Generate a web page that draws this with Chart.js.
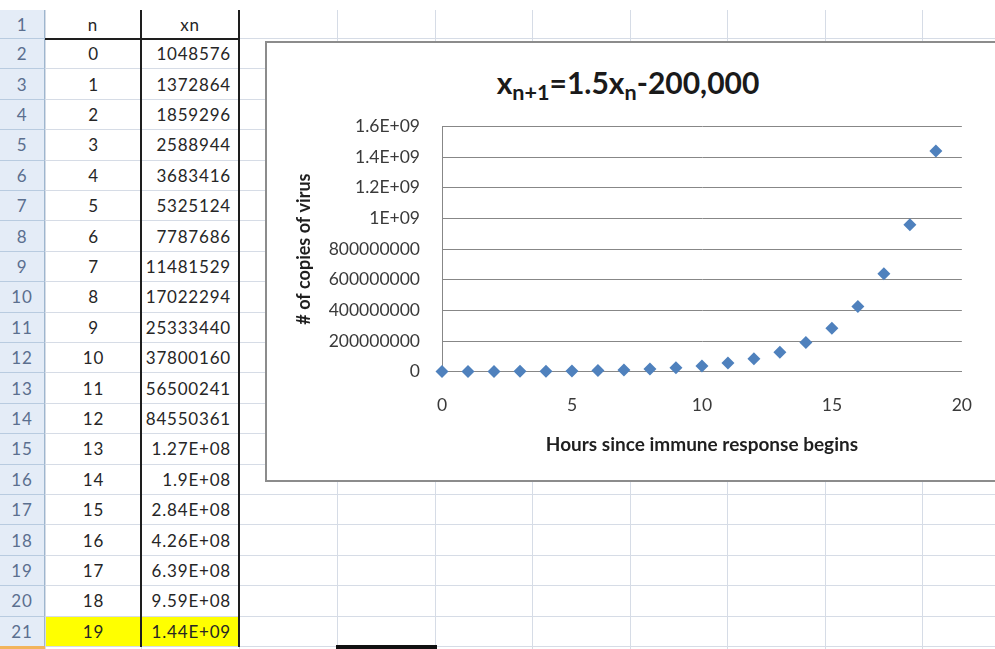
<!DOCTYPE html>
<html lang="en">
<head>
    <meta charset="UTF-8">
    <title>x(n+1) = 1.5 x(n) - 200,000</title>
    <script src="https://cdn.jsdelivr.net/npm/chart.js"></script>
    <style>
        html, body { margin: 0; padding: 0; }
        body { width: 995px; height: 649px; overflow: hidden; position: relative; background: #fff; font-family: Lato, sans-serif; }
        .ln { position: absolute; }
        .cell { position: absolute; box-sizing: border-box; font-size: 17px; letter-spacing: 0.8px; color: #262626; display: flex; align-items: center; }
        .rowhead { position: absolute; box-sizing: border-box; left: 0; width: 45px; background: #e4ecf7;
                   border-right: 1px solid #9eb6ce; border-bottom: 1px solid #b8cbe0; color: #5b6f8f;
                   font-size: 17px; letter-spacing: 0.8px; display: flex; align-items: center; justify-content: center; }
        .chart-box { position: absolute; left: 265px; top: 41px; width: 760px; height: 437px;
                     border: 2px solid #8c8c8c; background: #fff; }
        .chart-title { position: absolute; left: 267px; top: 62px; width: 722px; text-align: center;
                       font-weight: bold; font-size: 30px; color: #1a1a1a; line-height: 40px; }
        .chart-title sub { font-size: 72%; vertical-align: -0.3em; line-height: 0; }
        .chart-wrap { position: absolute; left: 267px; top: 43px; width: 728px; height: 435px; }
    </style>
</head>
<body>
    <div id="sheet"></div>
    <div class="chart-box"></div>
    <div class="chart-title">x<sub>n+1</sub>=1.5x<sub>n</sub>-200,000</div>
    <div class="chart-wrap"><canvas id="virusChart"></canvas></div>

    <script>
        // data read from the sheet
        const nValues = [0, 1, 2, 3, 4, 5, 6, 7, 8, 9, 10, 11, 12, 13, 14, 15, 16, 17, 18, 19];
        const xnValues = [1048576, 1372864, 1859296, 2588944, 3683416, 5325124, 7787686, 11481529,
                          17022294, 25333440, 37800160, 56500241, 84550361, 1.27e8, 1.9e8, 2.84e8,
                          4.26e8, 6.39e8, 9.59e8, 1.44e9];
        const columnHeaders = ['n', 'xn'];
        const xAxisTitle = 'Hours since immune response begins';
        const yAxisTitle = '# of copies of virus';

        // Excel "General" look: long numbers become 1.27E+08
        function generalFormat(v, maxDigits) {
            if (String(Math.round(Math.abs(v))).length <= maxDigits) return String(Math.round(v));
            let [m, e] = v.toExponential(2).split('e');
            m = m.replace(/\.?0+$/, '');
            const exp = parseInt(e, 10);
            return m + 'E' + (exp < 0 ? '-' : '+') + String(Math.abs(exp)).padStart(2, '0');
        }

        // spreadsheet grid
        const sheet = document.getElementById('sheet');
        const colEdges = [45, 141, 239, 337, 434.5, 532, 629.5, 727, 824.5, 922, 1019.5];
        const rowTop = r => r === 1 ? 10 : 39 + (r - 2) * 30.4;
        const rowH = r => r === 1 ? 29 : 30.4;
        const nRows = nValues.length + 1;

        function add(cls, style, text) {
            const d = document.createElement('div');
            d.className = cls;
            Object.assign(d.style, style);
            if (text !== undefined) d.textContent = text;
            sheet.appendChild(d);
            return d;
        }

        // light gridlines
        for (let r = 1; r <= nRows + 1; r++) {
            add('ln', { left: '45px', top: (rowTop(r) + rowH(r) - 1) + 'px', width: '950px', height: '1px', background: '#d6dce6' });
        }
        colEdges.forEach(x => add('ln', { left: x + 'px', top: '10px', width: '1px', height: '639px', background: '#d6dce6' }));

        // row headers
        for (let r = 1; r <= nRows + 1; r++) {
            add('rowhead', { top: rowTop(r) + 'px', height: rowH(r) + 'px' }, r <= nRows ? String(r) : '');
        }
        add('ln', { left: '0px', top: '646px', width: '45px', height: '3px', background: '#f2b45c' });

        // header row
        columnHeaders.forEach((h, i) => {
            add('cell', { left: colEdges[i] + 'px', top: rowTop(1) + 'px', width: (colEdges[i + 1] - colEdges[i]) + 'px',
                          height: rowH(1) + 'px', justifyContent: 'center' }, h);
        });

        // values
        nValues.forEach((n, i) => {
            const r = i + 2;
            const last = i === nValues.length - 1;
            add('cell', { left: (colEdges[0] + 1) + 'px', top: rowTop(r) + 'px', width: (colEdges[1] - colEdges[0] - 1) + 'px',
                          height: (rowH(r) - 1) + 'px', justifyContent: 'center', background: last ? '#ffff00' : 'transparent' }, String(n));
            add('cell', { left: (colEdges[1] + 1) + 'px', top: rowTop(r) + 'px', width: (colEdges[2] - colEdges[1] - 1) + 'px',
                          height: (rowH(r) - 1) + 'px', justifyContent: 'flex-end', paddingRight: '8px',
                          background: last ? '#ffff00' : 'transparent' }, generalFormat(xnValues[i], 8));
        });

        // black borders round the n / xn block
        add('ln', { left: '140px', top: '10px', width: '2px', height: '637px', background: '#1e1e1e' });
        add('ln', { left: '238px', top: '10px', width: '2px', height: '637px', background: '#1e1e1e' });
        add('ln', { left: '45px', top: '38px', width: '195px', height: '2px', background: '#1e1e1e' });
        // active cell edge at the bottom
        add('ln', { left: '336px', top: '645px', width: '101px', height: '4px', background: '#111' });

        // chart
        const points = nValues.map((n, i) => ({ x: n, y: xnValues[i] }));
        const axisGray = '#878787';

        new Chart(document.getElementById('virusChart'), {
            type: 'scatter',
            data: {
                datasets: [{
                    label: 'xn',
                    data: points,
                    pointStyle: 'rectRot',
                    pointRadius: 6.5,
                    pointHoverRadius: 6.5,
                    backgroundColor: '#4f81bd',
                    borderColor: '#4f81bd',
                    borderWidth: 0,
                    clip: false
                }]
            },
            options: {
                responsive: true,
                maintainAspectRatio: false,
                animation: false,
                layout: { padding: { top: 83.5, right: 28.9, left: 0, bottom: 0 } },
                plugins: { legend: { display: false }, tooltip: { enabled: false }, title: { display: false } },
                scales: {
                    x: {
                        type: 'linear',
                        min: 0, max: 20,
                        ticks: { stepSize: 5, padding: 23, color: '#3a3a3a', font: { family: 'Lato', size: 17.5 } },
                        grid: { display: false, drawTicks: false },
                        border: { display: true, color: axisGray, width: 1 },
                        title: { display: true, text: xAxisTitle, color: '#1f1f1f',
                                 font: { family: 'Lato', size: 19, weight: 'bold' }, padding: { top: 0, bottom: 22 } },
                        afterFit: s => { s.height = 106.3; }
                    },
                    y: {
                        type: 'linear',
                        min: 0, max: 1.6e9,
                        ticks: { stepSize: 2e8, padding: 22, color: '#3a3a3a', font: { family: 'Lato', size: 17.5 },
                                 callback: v => generalFormat(v, 9) },
                        grid: { color: axisGray, lineWidth: 1, drawTicks: false },
                        border: { display: true, color: axisGray, width: 1 },
                        title: { display: true, text: yAxisTitle, color: '#1f1f1f',
                                 font: { family: 'Lato', size: 18, weight: 'bold' }, padding: { top: 26, bottom: 0 } },
                        afterFit: s => { s.width = 175; }
                    }
                }
            }
        });
    </script>
</body>
</html>
